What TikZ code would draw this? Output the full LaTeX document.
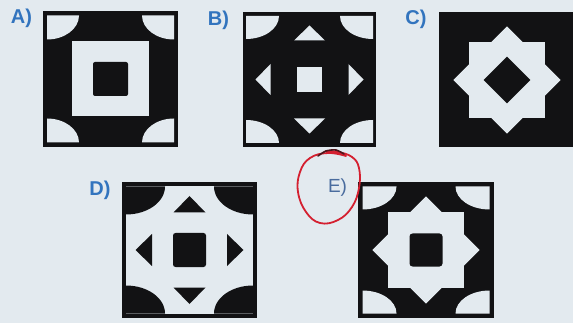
\documentclass[tikz,border=0pt]{standalone}
\usepackage{fontspec}
\setmainfont{Liberation Sans}
\definecolor{papercol}{HTML}{E3EAEF}
\definecolor{inkcol}{HTML}{121214}
\definecolor{labcol}{HTML}{3274BE}
\definecolor{labcolE}{HTML}{4A6C9E}
\definecolor{pencol}{HTML}{D42030}
\newcommand\myCorners[3]{%
  \foreach \sx/\sy in {1/1,1/-1,-1/1,-1/-1}{%
    \begin{scope}[xscale=\sx,yscale=\sy]
      \fill[#3] (-63.5,-63.5) -- (-63.5+#1,-63.5)
        .. controls (-63.5+#1,-63.5+0.5523*#2) and (-63.5+0.5523*#1,-63.5+#2) ..
        (-63.5,-63.5+#2) -- cycle;
    \end{scope}}}
\newcommand\myStar[1]{%
  \fill[#1] (-38,-38) rectangle (38,38);
  \fill[#1,rotate=45] (-38,-38) rectangle (38,38);}
\begin{document}
\begin{tikzpicture}[x=1pt,y=-1pt,
  ink/.style={fill=inkcol},
  paper/.style={fill=papercol},
  lab/.style={font=\bfseries\fontsize{20}{20}\selectfont,text=labcol,inner sep=0pt},
  labE/.style={font=\fontsize{19}{19}\selectfont,text=labcolE,inner sep=0pt}]
\fill[papercol] (0,0) rectangle (573,323);
\useasboundingbox (0,0) rectangle (573,323);

% ---------- A ----------
\begin{scope}[shift={(110.5,79)}]
  \fill[ink] (-67.5,-68) rectangle (67.5,68);
  \myCorners{32}{24}{paper}
  \fill[paper] (-38.5,-37.5) rectangle (38.5,37.5);
  \fill[ink,rounded corners=2] (-17.5,-17) rectangle (17.5,17);
\end{scope}
\node[lab] (la) at (21.5,18.5) {A)};

% ---------- B ----------
\begin{scope}[shift={(309.5,79.5)}]
  \fill[ink] (-66.5,-67.5) rectangle (66.5,67.5);
  \myCorners{33}{23}{paper}
  \fill[paper] (-12.5,-12.5) rectangle (12.5,12.5);
  \foreach \a in {0,90,180,270}
    \fill[paper,rotate=\a] (0,-54) -- (15.5,-39) -- (-15.5,-39) -- cycle;
\end{scope}
\node[lab] (lb) at (218.5,20) {B)};

% ---------- C ----------
\begin{scope}[shift={(507,80)}]
  \fill[ink] (-68,-68) rectangle (68,67.5);
  \myStar{paper}
  \fill[ink,rotate=45] (-16.5,-16.5) rectangle (16.5,16.5);
\end{scope}
\node[lab] (lc) at (416,19.5) {C)};

% ---------- D ----------
\begin{scope}[shift={(189.5,250)}]
  \fill[ink] (-67.5,-68) rectangle (67.5,68);
  \fill[paper] (-63.5,-64) rectangle (63.5,64);
  \myCorners{39}{28}{ink}
  \fill[ink,rounded corners=2.5] (-16.5,-17) rectangle (16.5,17);
  \foreach \a in {0,90,180,270}
    \fill[ink,rotate=\a] (0,-54) -- (16,-37.5) -- (-16,-37.5) -- cycle;
\end{scope}
\node[lab] (ld) at (100,190) {D)};

% ---------- E ----------
\begin{scope}[shift={(426,250)}]
  \fill[ink] (-68,-68) rectangle (68,68);
  \myCorners{34}{23}{paper}
  \myStar{paper}
  \fill[ink,rounded corners=3] (-16.5,-16.5) rectangle (16.5,16.5);
\end{scope}
\node[labE] (le) at (337.5,187.5) {E)};

% red pen mark round E)
\draw[pencol,line width=1.8pt,line cap=round]
  plot[smooth,tension=0.7] coordinates {(346,156) (328,153) (310,158) (300,172) (298,192)
    (306,212) (320,223) (338,220) (352,207) (359,188) (359,168) (352,157) (338,152) (326,151)};
\draw[inkcol!70!pencol,line width=1.6pt,line cap=round]
  plot[smooth] coordinates {(318,156) (326,151) (336,150) (344,154)};
\end{tikzpicture}
\end{document}
